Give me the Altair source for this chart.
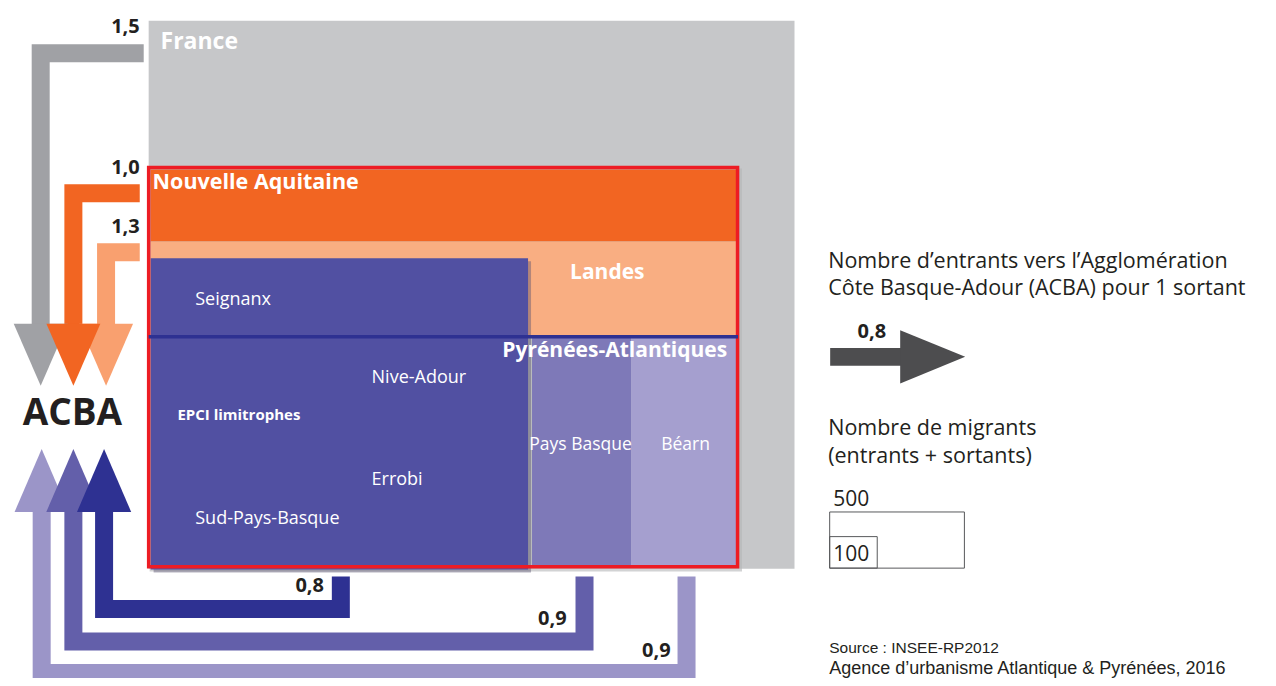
import altair as alt
import pandas as pd

# ------------------------------------------------------------------
# DATA (diagram units ~ reference pixels)
# ------------------------------------------------------------------
# nested territories, boxes sized by number of migrants
region_names = ["France", "Nouvelle Aquitaine", "Landes", "Pays Basque", "Béarn", "EPCI limitrophes"]
region_x0 = [146, 148, 148, 533, 633, 148]
region_x1 = [798, 739, 739, 633, 739, 529]
region_y0 = [19, 170, 243, 340, 340, 260]
region_y1 = [575, 243, 340, 572, 572, 576]

# sub-areas of the EPCI limitrophes box (labels only)
epci_parts = ["Seignanx", "Nive-Adour", "Errobi", "Sud-Pays-Basque"]

# entrants towards ACBA for 1 sortant
in_names = ["France", "Nouvelle Aquitaine", "Landes"]
in_ratio = [1.5, 1.0, 1.3]
out_names = ["EPCI limitrophes", "Pays Basque", "Béarn"]
out_ratio = [0.8, 0.9, 0.9]

# legend
legend_ratio = 0.8
legend_migrants = [500, 100]
legend_title_1 = ["Nombre d’entrants vers l’Agglomération", "Côte Basque-Adour (ACBA) pour 1 sortant"]
legend_title_2 = ["Nombre de migrants", "(entrants + sortants)"]
source_lines = ["Source : INSEE-RP2012", "Agence d’urbanisme Atlantique & Pyrénées, 2016"]
hub_name = "ACBA"

# ------------------------------------------------------------------
# LAYOUT / STYLE
# ------------------------------------------------------------------
fill = {
    "France": "#C6C7C9", "Nouvelle Aquitaine": "#F26522", "Landes": "#F9AE82",
    "Pays Basque": "#7E79B8", "Béarn": "#A59FCF", "EPCI limitrophes": "#5150A2",
}
arrow_col = {
    "France": "#A0A1A5", "Nouvelle Aquitaine": "#F26522", "Landes": "#F9A06F",
    "EPCI limitrophes": "#2E3192", "Pays Basque": "#635FAA", "Béarn": "#9B95C8",
}
# arrow centre lines
arrow_path = {
    "France": [(141, 52), (37, 52), (37, 335)],
    "Nouvelle Aquitaine": [(137, 194), (70, 194), (70, 335)],
    "Landes": [(137, 254), (103, 254), (103, 335)],
    "EPCI limitrophes": [(340, 583), (340, 616), (101, 616), (101, 510)],
    "Pays Basque": [(586, 583), (586, 649), (70, 649), (70, 510)],
    "Béarn": [(689, 583), (689, 681), (38, 681), (38, 510)],
}
head_x = {"France": 37, "Nouvelle Aquitaine": 70, "Landes": 103,
          "EPCI limitrophes": 101, "Pays Basque": 70, "Béarn": 38}
ratio_pos = {"France": (137, 25), "Nouvelle Aquitaine": (137, 168), "Landes": (137, 228),
             "EPCI limitrophes": (323, 593), "Pays Basque": (568, 626), "Béarn": (673, 659)}

xs = alt.Scale(domain=[4, 1276], nice=False, zero=False)
ys = alt.Scale(domain=[6, 686], nice=False, zero=False, reverse=True)
TXT = "#231F20"
SANS = "Open Sans"


def fmt(v):
    return f"{v:.1f}".replace(".", ",")


def rect_layer(df, **mk):
    return alt.Chart(df).mark_rect(**mk).encode(
        x=alt.X("x0:Q", scale=xs, axis=None), x2="x1:Q",
        y=alt.Y("y0:Q", scale=ys, axis=None), y2="y1:Q",
        color=alt.Color("c:N", scale=None),
    )


layers = []

# --- boxes -------------------------------------------------------
reg = pd.DataFrame({"name": region_names, "x0": region_x0, "x1": region_x1,
                    "y0": region_y0, "y1": region_y1})
reg["c"] = reg["name"].map(fill)
france = reg[reg.name == "France"]
na_ext = pd.DataFrame({"x0": [147], "x1": [745], "y0": [169], "y1": [578], "c": ["#B4B5B8"]})
layers.append(rect_layer(france))
layers.append(rect_layer(na_ext, opacity=0.6))
layers.append(rect_layer(reg[reg.name.isin(["Nouvelle Aquitaine", "Landes", "Pays Basque", "Béarn"])]))
epci = reg[reg.name == "EPCI limitrophes"].copy()
shadow = epci.copy()
shadow["x0"] += 3; shadow["x1"] += 3; shadow["y0"] += 3; shadow["y1"] += 3
shadow["c"] = "#5A5472"
layers.append(rect_layer(shadow, opacity=0.45))
layers.append(rect_layer(epci))
# red outline of Nouvelle Aquitaine
outline = pd.DataFrame({"x0": [146], "x1": [740.5], "y0": [168], "y1": [573], "c": ["#ED1C24"]})
layers.append(alt.Chart(outline).mark_rect(fillOpacity=0, stroke="#ED1C24", strokeWidth=3.5).encode(
    x=alt.X("x0:Q", scale=xs, axis=None), x2="x1:Q",
    y=alt.Y("y0:Q", scale=ys, axis=None), y2="y1:Q"))
# Pyrénées-Atlantiques limit line
pa_line = pd.DataFrame({"x0": [146], "x1": [741], "y0": [338], "y1": [341.5], "c": ["#2E3192"]})
layers.append(rect_layer(pa_line))

# --- arrows ------------------------------------------------------
rows = []
for n in ["France", "Landes", "Nouvelle Aquitaine", "Béarn", "Pays Basque", "EPCI limitrophes"]:
    for i, (px, py) in enumerate(arrow_path[n]):
        rows.append({"name": n, "seq": i, "x": px, "y": py, "c": arrow_col[n]})
lines = pd.DataFrame(rows)
layers.append(alt.Chart(lines).mark_line(strokeWidth=18, strokeCap="butt", strokeJoin="miter").encode(
    x=alt.X("x:Q", scale=xs, axis=None), y=alt.Y("y:Q", scale=ys, axis=None),
    detail="name:N", order="seq:Q", color=alt.Color("c:N", scale=None)))

down = "M-0.87,-1 L0.87,-1 L0,1 Z"
up = "M-0.86,1 L0.86,1 L0,-1 Z"
right = "M-1,-0.82 L1,0 L-1,0.82 Z"


def head_layer(df, shape, size):
    return alt.Chart(df).mark_point(shape=shape, filled=True, opacity=1, strokeWidth=0, size=size).encode(
        x=alt.X("x:Q", scale=xs, axis=None), y=alt.Y("y:Q", scale=ys, axis=None),
        color=alt.Color("c:N", scale=None))


for n in ["France", "Landes", "Nouvelle Aquitaine"]:
    layers.append(head_layer(pd.DataFrame({"x": [head_x[n]], "y": [358], "c": [arrow_col[n]]}), down, 62 ** 2))
for n in ["Béarn", "Pays Basque", "EPCI limitrophes"]:
    layers.append(head_layer(pd.DataFrame({"x": [head_x[n]], "y": [485.5], "c": [arrow_col[n]]}), up, 63 ** 2))

# legend arrow
leg_bar = pd.DataFrame({"x0": [834], "x1": [910], "y0": [351], "y1": [369], "c": ["#4D4D4F"]})
layers.append(rect_layer(leg_bar))
layers.append(head_layer(pd.DataFrame({"x": [937.5], "y": [360], "c": ["#4D4D4F"]}), right, 65 ** 2))

# legend boxes (area ~ migrants)
leg_box = pd.DataFrame({"x0": [833.5, 833.5], "x1": [969.5, 881.5], "y0": [517.5, 542.5], "y1": [574.5, 574.5]})
layers.append(alt.Chart(leg_box).mark_rect(fillOpacity=0, stroke="#58595B", strokeWidth=1).encode(
    x=alt.X("x0:Q", scale=xs, axis=None), x2="x1:Q",
    y=alt.Y("y0:Q", scale=ys, axis=None), y2="y1:Q"))

# --- texts -------------------------------------------------------
T = []  # text, x, y, size, weight, align, font, color


def add(t, x, y, s, w="normal", a="left", f=SANS, c=TXT):
    T.append({"t": t, "x": x, "y": y, "s": s, "w": w, "a": a, "f": f, "c": c})


W = "#FFFFFF"
add(region_names[0], 158, 41, 23, "bold", c=W)
add(region_names[1], 150, 184, 21.5, "bold", c=W)
add(region_names[2], 609, 275, 21, "bold", "center", c=W)
add("Pyrénées-Atlantiques", 730, 354, 21, "bold", "right", c=W)
add(region_names[3], 582, 450, 17.5, "normal", "center", c=W)
add(region_names[4], 688, 450, 17.5, "normal", "center", c=W)
add(region_names[5], 175, 419, 15, "bold", c=W)
add(epci_parts[0], 193, 302, 18, c=W)
add(epci_parts[1], 371, 381.5, 18, c=W)
add(epci_parts[2], 371, 485.5, 18, c=W)
add(epci_parts[3], 193, 525, 18, c=W)
add(hub_name, 69, 418, 37, "bold", "center")
for n, v in zip(in_names + out_names, in_ratio + out_ratio):
    px, py = ratio_pos[n]
    add(fmt(v), px, py, 20, "bold", "right")
add(legend_title_1[0], 832, 264, 21.5)
add(legend_title_1[1], 832, 291.5, 21.5)
add(fmt(legend_ratio), 876, 335, 20, "bold", "center")
add(legend_title_2[0], 832, 433, 21.5)
add(legend_title_2[1], 832, 462, 21.5)
add(str(legend_migrants[0]), 837, 505, 21)
add(str(legend_migrants[1]), 837, 561, 21)
add(source_lines[0], 833, 655.5, 15.5, f="Liberation Sans")
add(source_lines[1], 833, 677, 18, f="Liberation Sans")

tdf = pd.DataFrame(T)
for (w, a, f), g in tdf.groupby(["w", "a", "f"]):
    layers.append(alt.Chart(g).mark_text(fontWeight=w, align=a, font=f, baseline="middle").encode(
        x=alt.X("x:Q", scale=xs, axis=None), y=alt.Y("y:Q", scale=ys, axis=None),
        text="t:N", size=alt.Size("s:Q", scale=None), color=alt.Color("c:N", scale=None)))

chart = alt.layer(*layers).properties(
    width=1260, height=670, padding=0, autosize=alt.AutoSizeParams(type="none")
).configure_view(strokeWidth=0)

chart.save("out.html", embed_options={"renderer": "svg", "actions": False})
